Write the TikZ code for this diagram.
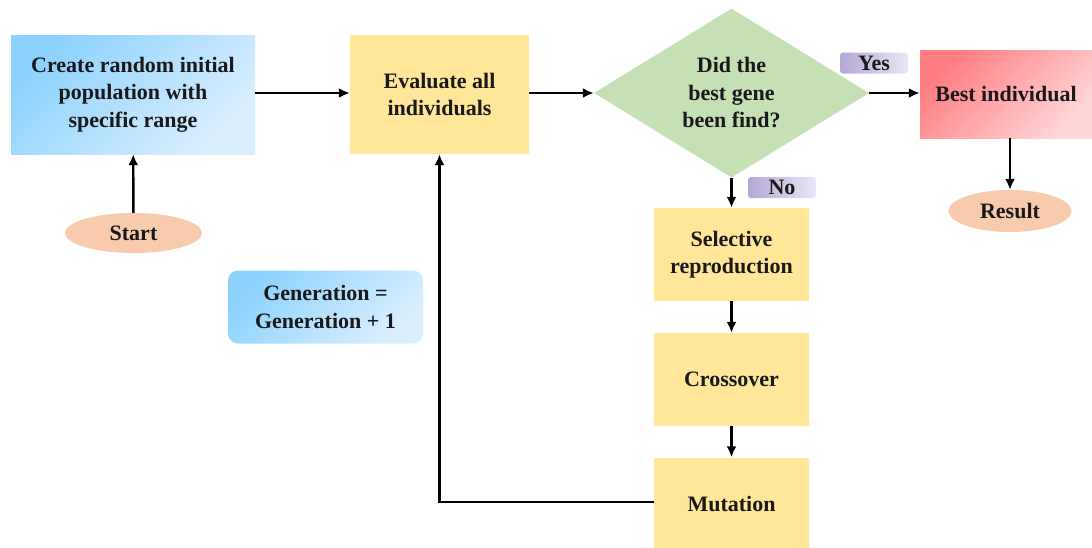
\documentclass[tikz,border=0pt]{standalone}
\usepackage{fontspec}
\newfontfamily\boxfont{Liberation Serif}[UprightFont=*-Bold]
\usetikzlibrary{shapes.geometric,arrows.meta}
\definecolor{bluedark}{HTML}{8DD2FD}
\definecolor{bluelight}{HTML}{DAEFFE}
\definecolor{yellowbox}{HTML}{FFE699}
\definecolor{greendia}{HTML}{C5E0B4}
\definecolor{reddark}{HTML}{FF7C80}
\definecolor{redlight}{HTML}{FFD6D8}
\definecolor{peach}{HTML}{F8CBAD}
\definecolor{purpledark}{HTML}{B4A7D6}
\definecolor{purplelight}{HTML}{EAE6F6}
\tikzset{
  txt/.style={font=\boxfont\fontsize{22}{27.5}\selectfont, align=center, text=black!90},
  bluebox/.style={txt, rectangle, inner sep=0pt, top color=bluedark, bottom color=bluelight, shading angle=45},
  yellowstep/.style={txt, rectangle, inner sep=0pt, fill=yellowbox},
  redbox/.style={txt, rectangle, inner sep=0pt, top color=reddark, bottom color=redlight, shading angle=45},
  oval/.style={txt, ellipse, inner sep=0pt, fill=peach},
  tag/.style={txt, rectangle, rounded corners=3pt, inner sep=0pt, minimum width=68pt, minimum height=21pt,
     left color=purpledark, right color=purplelight},
  link/.style={line width=2.4pt, -{Latex[length=11pt,width=10pt]}},
}
\begin{document}
\begin{tikzpicture}[x=1pt,y=-1pt]
\useasboundingbox (0,0) rectangle (1092,547);
% top row
\node[bluebox, minimum width=244pt, minimum height=119pt] (create) at (133,94.5)
  {Create random initial\\population with\\specific range};
\node[oval, minimum width=137pt, minimum height=40pt] (start) at (133.5,233) {Start};
\node[yellowstep, minimum width=179pt, minimum height=119pt] (eval) at (439.5,94.5)
  {Evaluate all\\individuals};
\node[txt, diamond, inner sep=0pt, fill=greendia, minimum width=275pt, minimum height=168pt] (check) at (731.5,93)
  {Did the\\best gene\\been find?};
\node[redbox, minimum width=172pt, minimum height=88pt] (best) at (1006,94) {Best individual};
\node[oval, minimum width=123pt, minimum height=42pt] (result) at (1010,211) {Result};
\node[tag] (yes) at (874,63) {Yes};
\node[tag] (no) at (782,187.5) {No};
% GA loop
\node[yellowstep, minimum width=155pt, minimum height=93pt] (select) at (731.5,254.5)
  {Selective\\reproduction};
\node[yellowstep, minimum width=155pt, minimum height=93pt] (cross) at (731.5,379.5) {Crossover};
\node[yellowstep, minimum width=155pt, minimum height=93pt] (mutate) at (731.5,504) {Mutation};
\node[bluebox, rounded corners=10pt, minimum width=195pt, minimum height=73pt] (gen) at (325.5,307)
  {Generation =\\Generation + 1};
% connectors
\draw[link] (start) -- (create);
\draw[link] (create.east |- check.west) -- (eval.west |- check.west);
\draw[link] (eval.east |- check.west) -- (check.west);
\draw[link] (check.east) -- (best.west |- check.east);
\draw[link] (best.south -| result.north) -- (result.north);
\draw[link] (check.south) -- (select.north);
\draw[link] (select) -- (cross);
\draw[link] (cross) -- (mutate);
\draw[link] (mutate.west |- 0,502) -- (eval.south |- 0,502) -- (eval.south);
\end{tikzpicture}
\end{document}
